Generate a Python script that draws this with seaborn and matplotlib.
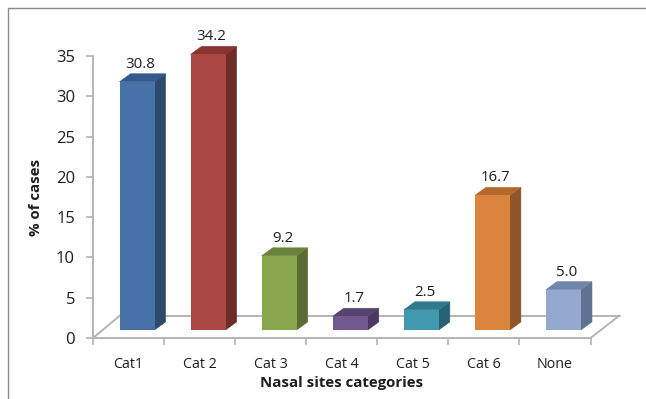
import matplotlib
matplotlib.use("Agg")
import matplotlib.pyplot as plt
import pandas as pd
import seaborn as sns
from matplotlib.lines import Line2D
from matplotlib.patches import Polygon

categories = ["Cat1", "Cat 2", "Cat 3", "Cat 4", "Cat 5", "Cat 6", "None"]
cases_pct = [30.8, 34.2, 9.2, 1.7, 2.5, 16.7, 5.0]
y_ticks = [0, 5, 10, 15, 20, 25, 30, 35]
front_colors = ["#4672A8", "#AA4643", "#89A54E", "#71588F", "#4198AF", "#DB843D", "#93A9CF"]
top_colors = ["#35598A", "#89322F", "#6A833B", "#57436F", "#2F7A8E", "#B5682B", "#7086AA"]
side_colors = ["#2C4A6E", "#6F2B29", "#5A6B33", "#4A3860", "#286374", "#8F5427", "#5F7291"]

W, H = 646, 399
DPI = 100
AX_L, AX_R, Y0, Y35 = 93.0, 590.5, 338.0, 56.0
FONT = ["Open Sans", "DejaVu Sans"]
AXIS_GREY = "#B4B4B4"
TEXT = "#1E1E1E"

sns.set_theme(style="white")
plt.rcParams["font.family"] = FONT

fig = plt.figure(figsize=(W / DPI, H / DPI), dpi=DPI, facecolor="white")
ax = fig.add_axes([AX_L / W, 1 - Y0 / H, (AX_R - AX_L) / W, (Y0 - Y35) / H])

frame = pd.DataFrame({"category": categories, "pct": cases_pct})

# Column fronts sit one unit above the axis line, on the receding floor
LIFT = 1.0
sns.barplot(data=frame, x="category", y="pct", hue="category", palette=front_colors,
            legend=False, bottom=LIFT, width=0.493, saturation=1, ax=ax, linewidth=0)

ax.set_xlim(-0.5, 6.5)
ax.set_ylim(0, 35)
ax.set_yticks(y_ticks)
ax.patch.set_alpha(0)

px_x = (AX_R - AX_L) / 7
px_y = (Y0 - Y35) / 35
SHIFT = 8.5 / px_x      # sideways shift of the fronts along the floor
DEPTH_X = 11 / px_x     # extrusion depth
DEPTH_Y = 8 / px_y

# Floor outline behind the columns
floor_kw = dict(color=AXIS_GREY, lw=1.4, clip_on=False, zorder=0.5)
ax.plot([-0.5, -0.5 + 27 / px_x], [0, 22.5 / px_y], **floor_kw)
ax.plot([-0.5 + 27 / px_x, 6.5 + 29 / px_x], [22.5 / px_y, 22.5 / px_y], **floor_kw)
ax.plot([6.5 + 29 / px_x, 6.5], [22.5 / px_y, 0], **floor_kw)

for i, bar in enumerate(list(ax.patches)):
    bar.set_x(bar.get_x() + SHIFT)
    bar.set_zorder(3)
    bar.set_clip_on(False)   # the tallest column rises past the top tick
    x0, x1 = bar.get_x(), bar.get_x() + bar.get_width()
    y0, y1 = bar.get_y(), bar.get_y() + bar.get_height()
    ax.add_patch(Polygon([(x1, y0), (x1 + DEPTH_X, y0 + DEPTH_Y),
                          (x1 + DEPTH_X, y1 + DEPTH_Y), (x1, y1)],
                         closed=True, fc=side_colors[i], ec=side_colors[i], lw=0.4,
                         zorder=2.9, clip_on=False))
    ax.add_patch(Polygon([(x0, y1), (x1, y1), (x1 + DEPTH_X, y1 + DEPTH_Y),
                          (x0 + DEPTH_X, y1 + DEPTH_Y)],
                         closed=True, fc=top_colors[i], ec=top_colors[i], lw=0.4,
                         zorder=2.9, clip_on=False))
    ax.text((x0 + x1) / 2 + 3.5 / px_x, y1 + DEPTH_Y + 2 / px_y, f"{cases_pct[i]:.1f}",
            ha="center", va="bottom", fontsize=10.8, color=TEXT, clip_on=False, zorder=4)

# Axis lines and ticks
for name in ("top", "right"):
    ax.spines[name].set_visible(False)
for name in ("left", "bottom"):
    ax.spines[name].set_visible(True)
    ax.spines[name].set_color(AXIS_GREY)
    ax.spines[name].set_linewidth(1.4)

ax.set_xticks([i - 0.5 for i in range(8)], minor=False)
ax.set_xticklabels([])
ax.set_xticks(range(7), labels=categories, minor=True)
ax.tick_params(axis="x", which="major", length=5, width=1.2, color=AXIS_GREY,
               bottom=True, direction="out")
ax.tick_params(axis="x", which="minor", length=0, pad=14, labelsize=10.3, labelcolor=TEXT)
ax.tick_params(axis="y", length=5, width=1.2, color=AXIS_GREY, left=True, direction="out",
               pad=8, labelsize=12, labelcolor=TEXT)
ax.grid(False)

ax.set_xlabel("Nasal sites categories", fontsize=10.8, fontweight="bold", color=TEXT)
ax.xaxis.set_label_coords((342 - AX_L) / (AX_R - AX_L), -(376 - Y0) / (Y0 - Y35))
ax.xaxis.label.set_verticalalignment("top")
ax.set_ylabel("% of cases", fontsize=10.8, fontweight="bold", color=TEXT)
ax.yaxis.set_label_coords((43 - AX_L) / (AX_R - AX_L), (Y0 - 197) / (Y0 - Y35))

# Thin outer panel border along the top and left of the canvas
for xs, ys in (((8 / W, 1), (1 - 8 / H, 1 - 8 / H)), ((8 / W, 8 / W), (0, 1 - 8 / H))):
    fig.add_artist(Line2D(xs, ys, transform=fig.transFigure, color="#8A8A8A", lw=1.0))

fig.savefig("out.png", dpi=DPI, facecolor="white")
